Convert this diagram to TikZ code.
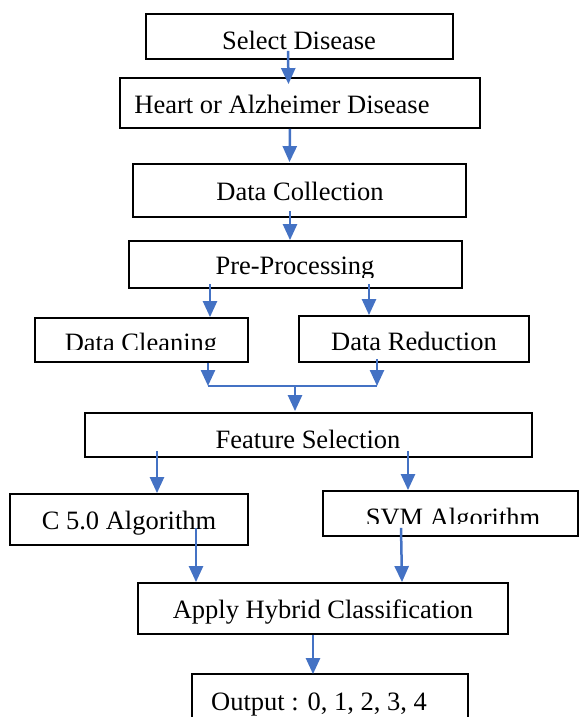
\documentclass[tikz,border=0pt]{standalone}
\usepackage{fontspec}
\setmainfont{Liberation Serif}
\usetikzlibrary{arrows.meta}

\definecolor{flowblue}{RGB}{68,114,196}

\tikzset{
  box/.style={draw=black, line width=1.8pt, inner sep=0pt},
  txt/.style={anchor=base, inner sep=0pt, font=\fontsize{26.5}{30}\selectfont},
  flow/.style={draw=flowblue, line width=2.5pt,
    -{Triangle[width=14pt,length=16pt]}},
  joinline/.style={draw=flowblue, line width=2.2pt}
}

\begin{document}
\begin{tikzpicture}[x=1pt,y=-1pt]
\useasboundingbox (0,0) rectangle (579,717);

% boxes
\node[box, minimum width=307, minimum height=45] (sel) at (299.5,36.5) {};
\node[box, minimum width=360, minimum height=50] (heart) at (300,103) {};
\node[box, minimum width=333, minimum height=53] (coll) at (299.5,190.5) {};
\node[box, minimum width=333, minimum height=47] (pre) at (295.5,264.5) {};
\node[box, minimum width=213, minimum height=44] (clean) at (141.5,340) {};
\node[box, minimum width=230, minimum height=46] (reduc) at (414,339) {};
\node[box, minimum width=447, minimum height=44] (feat) at (308.5,435) {};
\node[box, minimum width=238, minimum height=51] (cfive) at (129,519.5) {};
\node[box, minimum width=255, minimum height=45] (svm) at (450.5,513.5) {};
\node[box, minimum width=370, minimum height=51] (hyb) at (323,608.5) {};
\node[box, minimum width=276, minimum height=66] (out) at (330,707) {};

% texts
\node[txt] (sel-t) at (299,49.5) {Select Disease};
\node[txt] (heart-t) at (282,113) {Heart or Alzheimer Disease};
\node[txt] (coll-t) at (300,200) {Data Collection};
\begin{scope}
\clip (pre.north west) rectangle ([yshift=11pt]pre.south east);
\node[txt] (pre-t) at (295,274) {Pre-Processing};
\end{scope}
\begin{scope}
\clip (clean.north west) rectangle ([yshift=13pt]clean.south east);
\node[txt] (clean-t) at (141,351) {Data Cleaning};
\end{scope}
\node[txt] (reduc-t) at (414,350) {Data Reduction};
\node[txt] (feat-t) at (308,448) {Feature Selection};
\node[txt] (cfive-t) at (129,529) {C 5.0 Algorithm};
\begin{scope}
\clip (svm.north west) rectangle ([yshift=13pt]svm.south east);
\node[txt] (svm-t) at (453,526) {SVM Algorithm};
\end{scope}
\node[txt] (hyb-t) at (323,618) {Apply Hybrid Classification};
\node[txt] (out-t) at (319,710) {Output : 0, 1, 2, 3, 4};

% join of the two cleaning branches
\coordinate (jl) at (208,386);
\coordinate (jr) at (377,386);
\coordinate (jm) at (295,386);

% arrows
\draw[flow] ([xshift=-11.5pt,yshift=9pt]sel.south) -- ([xshift=-11.5pt,yshift=-7pt]heart.north);
\draw[flow] ([xshift=-10pt]heart.south) -- ([xshift=-10pt,yshift=1pt]coll.north);
\draw[flow] ([xshift=-9.5pt,yshift=7pt]coll.south) -- ([xshift=-5.5pt]pre.north);
\draw[flow] ([xshift=-85.5pt,yshift=5pt]pre.south) -- ([xshift=68.5pt]clean.north);
\draw[flow] ([xshift=73.5pt,yshift=5pt]pre.south) -- ([xshift=-45pt]reduc.north);
\draw[flow] ([xshift=66.5pt]clean.south) -- (jl);
\draw[flow] ([xshift=-37pt,yshift=4pt]reduc.south) -- (jr);
\draw[joinline] (jl) -- (jr);
\draw[flow] (jm) -- ([xshift=-13.5pt,yshift=1pt]feat.north);
\draw[flow] ([xshift=-151.5pt,yshift=7pt]feat.south) -- ([xshift=28pt]cfive.north);
\draw[flow] ([xshift=99.5pt,yshift=7pt]feat.south) -- ([xshift=-42.5pt]svm.north);
\draw[flow] ([xshift=67pt,yshift=18pt]cfive.south) -- ([xshift=-127pt]hyb.north);
\draw[flow] ([xshift=-49.5pt,yshift=9pt]svm.south) -- ([xshift=79pt]hyb.north);
\draw[flow] ([xshift=-10pt]hyb.south) -- ([xshift=-17pt,yshift=-1pt]out.north);
\end{tikzpicture}
\end{document}
